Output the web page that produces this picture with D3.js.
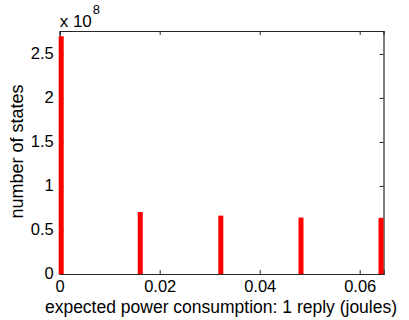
<!DOCTYPE html>
<html>
<head>
<meta charset="utf-8">
<script src="https://cdn.jsdelivr.net/npm/d3@7"></script>
<style>
  body { margin: 0; background: #fff; }
  text { font-family: "Liberation Sans", Arial, sans-serif; }
</style>
</head>
<body>
<div id="chart"></div>
<script>
// energy values (joules) and number of states (units of 1e8)
var energy = [0.0003, 0.01611, 0.03222, 0.04826, 0.06426];
var states = [2.70, 0.704, 0.663, 0.641, 0.638];
var xTicks = [0, 0.02, 0.04, 0.06];
var xTickLabels = ["0", "0.02", "0.04", "0.06"];
var yTicks = [0, 0.5, 1, 1.5, 2, 2.5];
var yTickLabels = ["0", "0.5", "1", "1.5", "2", "2.5"];

var W = 409, H = 320;
var margin = { top: 31, right: 25.5, bottom: 46, left: 59.7 },
  width = W - margin.left - margin.right,
  height = H - margin.top - margin.bottom;

var svg = d3.select("#chart").append("svg")
  .attr("width", W)
  .attr("height", H);

var g = svg.append("g")
  .attr("transform", "translate(" + margin.left + "," + margin.top + ")");

var x = d3.scaleLinear()
  .domain([0, 0.06476])
  .range([0, width]);

var y = d3.scaleLinear()
  .domain([0, 2.76])
  .range([height, 0]);

var axisColor = "#262626";

// bottom axis, ticks pointing in
var xAxis = d3.axisBottom(x)
  .tickValues(xTicks)
  .tickFormat(function (d, i) { return xTickLabels[i]; })
  .tickSize(-4)
  .tickPadding(6);

var gx = g.append("g")
  .attr("transform", "translate(0," + height + ")")
  .call(xAxis);

// top axis, ticks only
var gxt = g.append("g")
  .call(d3.axisTop(x).tickValues(xTicks).tickSize(-4).tickFormat(""));

var yAxis = d3.axisLeft(y)
  .tickValues(yTicks)
  .tickFormat(function (d, i) { return yTickLabels[i]; })
  .tickSize(-4)
  .tickPadding(6);

var gy = g.append("g").call(yAxis);

var gyr = g.append("g")
  .attr("transform", "translate(" + width + ",0)")
  .call(d3.axisRight(y).tickValues(yTicks).tickSize(-4).tickFormat(""));

[gx, gxt, gy, gyr].forEach(function (a) {
  a.select(".domain").attr("stroke", axisColor).attr("stroke-width", 1.2);
  a.selectAll(".tick line").attr("stroke", axisColor);
  a.selectAll(".tick text")
    .attr("fill", "#000")
    .attr("font-size", "16.5px")
    .style("font-family", "'Liberation Sans', Arial, sans-serif");
});
gy.selectAll(".tick text").attr("dy", "0.3em");

// stems (drawn over the axes like the original)
g.append("g")
  .selectAll("line.stem")
  .data(energy)
  .enter().append("line")
  .attr("class", "stem")
  .attr("x1", function (d) { return x(d); })
  .attr("x2", function (d) { return x(d); })
  .attr("y1", y(0))
  .attr("y2", function (d, i) { return y(states[i]); })
  .attr("stroke", "#ff0000")
  .attr("stroke-width", 5);

// exponent label
var ex = svg.append("text")
  .attr("x", margin.left)
  .attr("y", 26.7)
  .attr("font-size", "17px")
  .attr("fill", "#000");
ex.append("tspan").text("x 10");
ex.append("tspan").attr("dy", -13).attr("dx", 1).attr("font-size", "13px").text("8");

// axis titles
svg.append("text")
  .attr("x", 221)
  .attr("y", 313)
  .attr("text-anchor", "middle")
  .attr("font-size", "17.5px")
  .attr("fill", "#000")
  .text("expected power consumption: 1 reply (joules)");

svg.append("text")
  .attr("transform", "translate(23," + 151.5 + ") rotate(-90)")
  .attr("text-anchor", "middle")
  .attr("font-size", "18px")
  .attr("fill", "#000")
  .text("number of states");
</script>
</body>
</html>
